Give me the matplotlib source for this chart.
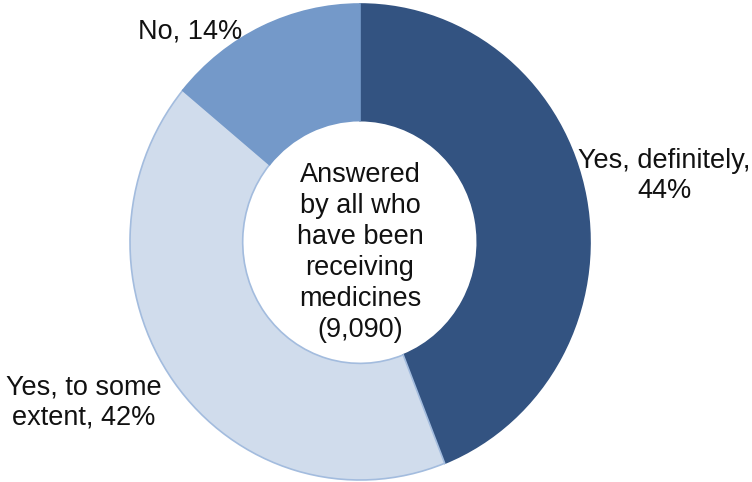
import matplotlib.pyplot as plt

plt.rcParams['font.family'] = ['Liberation Sans', 'DejaVu Sans']

labels = ["Yes, definitely,\n44%", "Yes, to some\nextent, 42%", "No, 14%"]
values = [44, 42, 14]
colors = ["#335381", "#D0DCEC", "#7499C9"]
edges = ["#335381", "#A3BCDE", "#7499C9"]
centre_text = "Answered\nby all who\nhave been\nreceiving\nmedicines\n(9,090)"

W, H = 752, 482
fig = plt.figure(figsize=(W / 100, H / 100), dpi=100)
# ring spans x 130..590 px, y 4..480 px (slightly taller than wide)
ax = fig.add_axes([130 / W, 2 / H, 460 / W, 476 / H])

wedges, _ = ax.pie(values, colors=colors, startangle=90, counterclock=False,
                   radius=1.0, wedgeprops=dict(width=0.49, linewidth=1.2))
for w, ec in zip(wedges, edges):
    w.set_edgecolor(ec)
ax.set_aspect('auto')
ax.set_xlim(-1, 1)
ax.set_ylim(-1, 1)
ax.axis('off')

fs = 19.5
ax.text(0, -0.045, centre_text, ha='center', va='center', fontsize=fs,
        linespacing=1.25, color='#111111')

# outside labels, placed in figure pixels
fig.text(190 / W, 1 - 31 / H, labels[2], ha='center', va='center',
         fontsize=fs, color='#111111')
fig.text(664 / W, 1 - 176 / H, labels[0], ha='center', va='center',
         fontsize=fs, linespacing=1.2, color='#111111')
fig.text(84 / W, 1 - 402 / H, labels[1], ha='center', va='center',
         fontsize=fs, linespacing=1.2, color='#111111')

fig.savefig("out.png", dpi=100)
